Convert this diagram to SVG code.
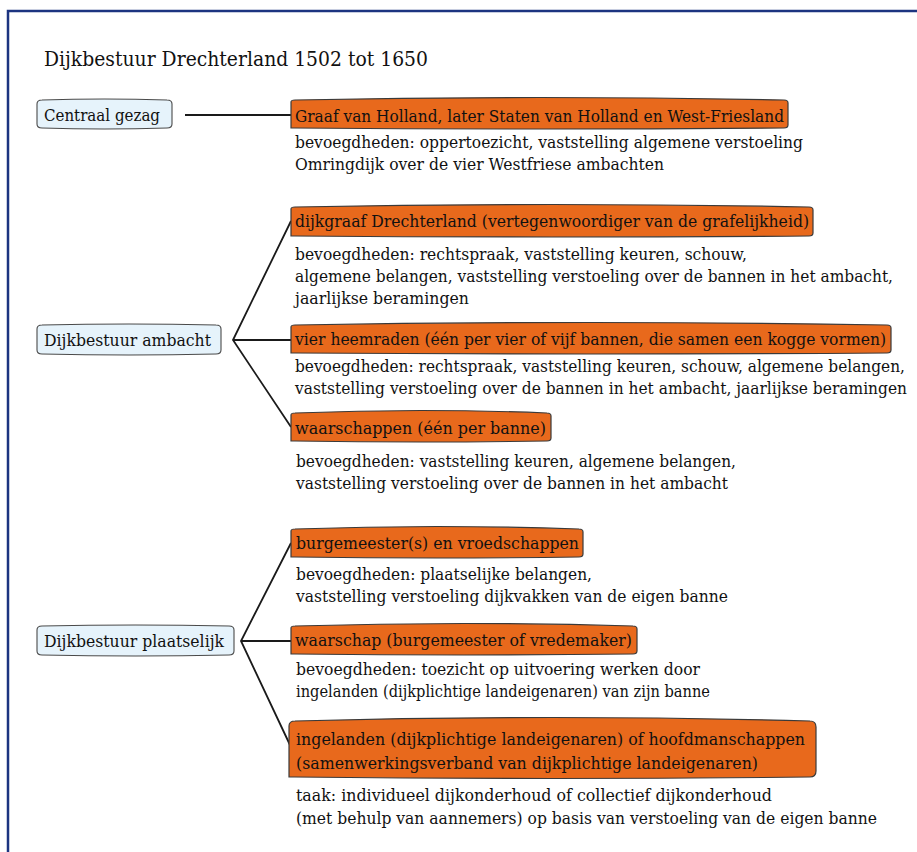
<svg xmlns="http://www.w3.org/2000/svg" width="917" height="852" viewBox="0 0 917 852">
  <style>
    text { font-family: "DejaVu Serif", "Liberation Serif", serif; fill: #111; }
    .title { font-size: 21px; }
    .lbl { font-size: 17px; }
    .body { font-size: 17px; }
    .org { fill: #e8691c; stroke: #3a3a3a; stroke-width: 1.2; }
    .cat { fill: #e6f3fb; stroke: #4a4a4a; stroke-width: 1.1; }
    .conn { fill: none; stroke: #1a1a1a; stroke-width: 1.8; }
    .frame { fill: none; stroke: #1c3480; stroke-width: 2.5; }
  </style>

  <!-- page frame -->
  <path class="frame" d="M8 852 V11 H917"/>

  <text class="title" x="44" y="66" textLength="384" lengthAdjust="spacingAndGlyphs">Dijkbestuur Drechterland 1502 tot 1650</text>

  <!-- connectors -->
  <g id="connectors">
    <path class="conn" d="M185 115 H291"/>
    <path class="conn" d="M291 221 L233 340 L291 427 M233 340 H291"/>
    <path class="conn" d="M291 543 L241 641 L290 745 M241 641 H291"/>
  </g>

  <!-- level headings -->
  <g id="centraal-gezag">
    <path class="cat" d="M37 104 Q37 100 42 100 Q104 98 167 100 Q172 100 172 104 V124 Q172 128 167 128 Q104 130 42 128 Q37 128 37 124 Z"/>
    <text class="lbl" x="44" y="121" textLength="116" lengthAdjust="spacingAndGlyphs">Centraal gezag</text>
  </g>
  <g id="dijkbestuur-ambacht">
    <path class="cat" d="M37 329 Q37 325 42 325 Q129 323 216 325 Q221 325 221 329 V350 Q221 354 216 354 Q129 356 42 354 Q37 354 37 350 Z"/>
    <text class="lbl" x="44" y="346" textLength="167" lengthAdjust="spacingAndGlyphs">Dijkbestuur ambacht</text>
  </g>
  <g id="dijkbestuur-plaatselijk">
    <path class="cat" d="M37 630 Q37 626 42 626 Q135 624 229 626 Q234 626 234 630 V651 Q234 655 229 655 Q135 657 42 655 Q37 655 37 651 Z"/>
    <text class="lbl" x="44" y="647" textLength="180" lengthAdjust="spacingAndGlyphs">Dijkbestuur plaatselijk</text>
  </g>

  <!-- central authority -->
  <g id="graaf">
    <path class="org" d="M291 128 V102 Q291 100 295 100 Q539 95 784 100 Q788 100 788 103 V125 Q788 128 784 128 Q539 130 295 128 Z"/>
    <text class="lbl" x="295" y="122" textLength="489" lengthAdjust="spacingAndGlyphs">Graaf van Holland, later Staten van Holland en West-Friesland</text>
    <text class="body" x="295" y="148" textLength="508" lengthAdjust="spacingAndGlyphs">bevoegdheden: oppertoezicht, vaststelling algemene verstoeling</text>
    <text class="body" x="295" y="170" textLength="369" lengthAdjust="spacingAndGlyphs">Omringdijk over de vier Westfriese ambachten</text>
  </g>

  <!-- ambacht level -->
  <g id="dijkgraaf">
    <path class="org" d="M291 236 V209 Q291 207 295 207 Q552 202 809 207 Q813 207 813 210 V233 Q813 236 809 236 Q552 238 295 236 Z"/>
    <text class="lbl" x="295" y="227" textLength="514" lengthAdjust="spacingAndGlyphs">dijkgraaf Drechterland (vertegenwoordiger van de grafelijkheid)</text>
    <text class="body" x="295" y="260" textLength="452" lengthAdjust="spacingAndGlyphs">bevoegdheden: rechtspraak, vaststelling keuren, schouw,</text>
    <text class="body" x="295" y="282" textLength="598" lengthAdjust="spacingAndGlyphs">algemene belangen, vaststelling verstoeling over de bannen in het ambacht,</text>
    <text class="body" x="295" y="304" textLength="174" lengthAdjust="spacingAndGlyphs">jaarlijkse beramingen</text>
  </g>
  <g id="heemraden">
    <path class="org" d="M291 353 V327 Q291 325 295 325 Q591 320 887 325 Q891 325 891 328 V350 Q891 353 887 353 Q591 355 295 353 Z"/>
    <text class="lbl" x="295" y="345" textLength="591" lengthAdjust="spacingAndGlyphs">vier heemraden (één per vier of vijf bannen, die samen een kogge vormen)</text>
    <text class="body" x="295" y="372" textLength="610" lengthAdjust="spacingAndGlyphs">bevoegdheden: rechtspraak, vaststelling keuren, schouw, algemene belangen,</text>
    <text class="body" x="295" y="394" textLength="612" lengthAdjust="spacingAndGlyphs">vaststelling verstoeling over de bannen in het ambacht, jaarlijkse beramingen</text>
  </g>
  <g id="waarschappen">
    <path class="org" d="M291 441 V415 Q291 413 295 413 Q421 408 547 413 Q551 413 551 416 V438 Q551 441 547 441 Q421 443 295 441 Z"/>
    <text class="lbl" x="295" y="434" textLength="251" lengthAdjust="spacingAndGlyphs">waarschappen (één per banne)</text>
    <text class="body" x="296" y="467" textLength="440" lengthAdjust="spacingAndGlyphs">bevoegdheden: vaststelling keuren, algemene belangen,</text>
    <text class="body" x="296" y="489" textLength="432" lengthAdjust="spacingAndGlyphs">vaststelling verstoeling over de bannen in het ambacht</text>
  </g>

  <!-- local level -->
  <g id="burgemeesters">
    <path class="org" d="M291 557 V531 Q291 529 295 529 Q437 524 579 529 Q583 529 583 532 V554 Q583 557 579 557 Q437 559 295 557 Z"/>
    <text class="lbl" x="296" y="549" textLength="283" lengthAdjust="spacingAndGlyphs">burgemeester(s) en vroedschappen</text>
    <text class="body" x="296" y="580" textLength="296" lengthAdjust="spacingAndGlyphs">bevoegdheden: plaatselijke belangen,</text>
    <text class="body" x="296" y="602" textLength="432" lengthAdjust="spacingAndGlyphs">vaststelling verstoeling dijkvakken van de eigen banne</text>
  </g>
  <g id="waarschap">
    <path class="org" d="M291 654 V628 Q291 626 295 626 Q464 621 633 626 Q637 626 637 629 V651 Q637 654 633 654 Q464 656 295 654 Z"/>
    <text class="lbl" x="295" y="646" textLength="337" lengthAdjust="spacingAndGlyphs">waarschap (burgemeester of vredemaker)</text>
    <text class="body" x="296" y="675" textLength="404" lengthAdjust="spacingAndGlyphs">bevoegdheden: toezicht op uitvoering werken door</text>
    <text class="body" x="296" y="697" textLength="414" lengthAdjust="spacingAndGlyphs">ingelanden (dijkplichtige landeigenaren) van zijn banne</text>
  </g>
  <g id="ingelanden">
    <path class="org" d="M289 777 V726 Q289 721 295 721 Q552 714 810 721 Q816 721 816 727 V771 Q816 777 810 777 Q552 780 295 777 Z"/>
    <text class="lbl" x="296" y="745" textLength="509" lengthAdjust="spacingAndGlyphs">ingelanden (dijkplichtige landeigenaren) of hoofdmanschappen</text>
    <text class="lbl" x="296" y="769" textLength="462" lengthAdjust="spacingAndGlyphs">(samenwerkingsverband van dijkplichtige landeigenaren)</text>
    <text class="body" x="296" y="801" textLength="476" lengthAdjust="spacingAndGlyphs">taak: individueel dijkonderhoud of collectief dijkonderhoud</text>
    <text class="body" x="296" y="824" textLength="581" lengthAdjust="spacingAndGlyphs">(met behulp van aannemers) op basis van verstoeling van de eigen banne</text>
  </g>
</svg>
